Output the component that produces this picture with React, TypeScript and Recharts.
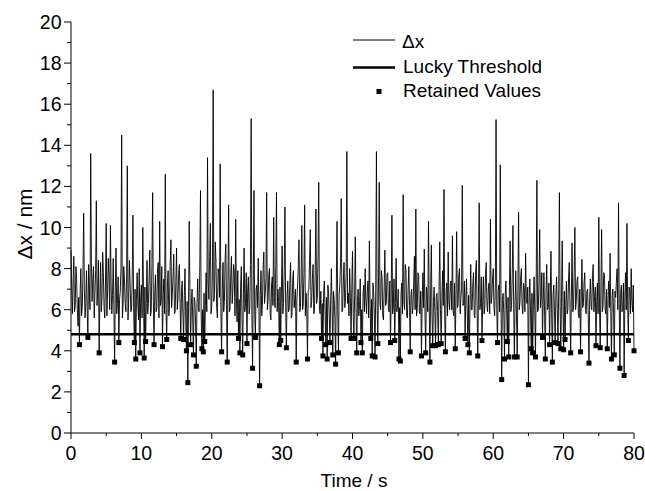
import React from "react";
import { ComposedChart, Line, Scatter, XAxis, YAxis, ReferenceLine } from "recharts";

// sampling interval of the trace, in seconds
const SAMPLE_STEP = 0.1;

// Δx in nm, one row per second (10 samples each)
const dxValues: number[] = [
  8.9, 7.1, 5.8, 7.4, 8.6, 5.9, 6.2, 8.1, 7.5, 6.0,
  5.2, 6.6, 4.3, 6.9, 8.0, 5.7, 6.1, 7.7, 10.7, 7.0,
  5.6, 6.3, 7.9, 6.1, 4.65, 8.2, 7.2, 6.0, 13.6, 8.3,
  6.4, 7.5, 8.1, 5.6, 6.8, 7.9, 11.3, 6.2, 7.0, 8.4,
  3.9, 6.4, 8.3, 5.9, 6.5, 8.8, 7.8, 6.1, 5.6, 7.3,
  10.2, 5.7, 6.9, 8.5, 7.6, 6.0, 10.1, 7.2, 5.8, 6.7,
  8.5, 6.0, 3.45, 7.1, 9.0, 5.8, 6.3, 7.6, 4.4, 6.5,
  6.9, 8.0, 14.5, 5.6, 6.2, 8.1, 7.4, 6.3, 5.9, 7.7,
  13.0, 5.5, 6.6, 8.4, 7.3, 5.9, 6.0, 7.5, 10.6, 6.1,
  4.4, 7.0, 3.6, 6.5, 7.8, 6.2, 5.5, 8.0, 3.9, 6.6,
  7.2, 5.6, 10.0, 6.9, 3.65, 7.1, 4.45, 6.3, 8.4, 5.8,
  6.3, 7.6, 8.9, 5.7, 5.9, 8.2, 11.7, 6.4, 4.3, 6.8,
  7.7, 5.9, 6.1, 8.0, 8.3, 5.6, 10.3, 6.2, 6.4, 8.1,
  4.2, 6.7, 7.5, 5.8, 12.6, 6.0, 4.55, 7.2, 7.9, 5.7,
  6.2, 8.3, 9.4, 6.1, 6.8, 7.6, 8.7, 5.8, 5.9, 7.4,
  9.0, 6.0, 6.5, 7.8, 8.2, 6.3, 4.6, 6.9, 7.4, 5.8,
  4.55, 6.7, 8.0, 5.6, 4.0, 6.4, 2.45, 6.1, 10.3, 6.9,
  4.3, 6.2, 7.0, 5.5, 3.8, 6.6, 6.4, 5.4, 3.25, 6.3,
  7.5, 6.1, 5.9, 8.1, 11.8, 5.7, 4.1, 6.0, 3.95, 6.8,
  4.45, 6.2, 7.8, 5.9, 13.4, 7.3, 6.5, 8.6, 10.2, 5.8,
  6.2, 7.9, 16.7, 6.4, 6.9, 9.3, 8.4, 6.1, 5.6, 8.0,
  7.8, 6.6, 13.1, 5.8, 3.95, 7.0, 8.3, 5.9, 6.4, 8.5,
  9.2, 6.0, 3.45, 7.4, 11.1, 5.9, 6.0, 7.7, 8.6, 6.3,
  6.9, 8.2, 7.8, 5.7, 10.4, 6.6, 5.4, 7.9, 4.6, 6.5,
  3.9, 7.1, 8.1, 5.6, 3.8, 6.8, 9.0, 5.9, 6.3, 7.8,
  4.35, 6.9, 7.6, 5.8, 6.0, 8.2, 15.3, 6.0, 3.15, 7.3,
  11.8, 5.9, 4.65, 7.0, 7.2, 6.1, 8.5, 6.4, 2.3, 6.7,
  7.9, 5.7, 6.2, 8.0, 8.8, 6.3, 6.8, 7.5, 11.7, 6.0,
  6.4, 7.7, 8.0, 5.8, 5.5, 7.2, 7.6, 6.2, 10.5, 6.6,
  6.1, 8.1, 11.7, 5.9, 7.0, 6.4, 4.3, 7.1, 4.5, 6.9,
  9.1, 5.8, 6.3, 8.0, 11.0, 6.2, 4.15, 6.6, 7.4, 5.9,
  6.0, 7.3, 8.3, 5.6, 5.7, 7.4, 7.9, 6.1, 6.5, 7.0,
  3.45, 6.5, 7.2, 8.1, 9.4, 5.9, 6.1, 7.6, 10.1, 6.0,
  6.2, 7.8, 11.1, 5.7, 6.8, 6.0, 3.6, 6.9, 7.0, 8.4,
  9.9, 6.1, 6.4, 7.5, 8.2, 5.8, 6.0, 7.9, 10.9, 6.3,
  6.6, 8.5, 12.2, 6.0, 5.8, 6.9, 4.6, 6.3, 3.75, 6.8,
  7.4, 5.9, 4.3, 6.6, 3.6, 7.2, 6.8, 5.7, 4.4, 6.5,
  8.0, 6.2, 3.8, 6.9, 6.5, 5.6, 3.35, 7.1, 10.3, 6.0,
  3.9, 6.7, 7.2, 8.3, 11.4, 5.9, 6.0, 7.4, 8.3, 6.1,
  6.4, 7.8, 13.7, 6.3, 6.8, 5.7, 8.0, 6.6, 4.6, 7.0,
  8.85, 5.8, 4.6, 6.7, 9.55, 6.1, 3.9, 6.4, 7.0, 5.7,
  6.2, 7.5, 4.4, 6.0, 3.9, 6.8, 7.2, 5.9, 8.0, 6.4,
  5.8, 6.9, 7.4, 5.6, 9.35, 6.2, 4.6, 6.5, 3.75, 7.3,
  6.9, 5.8, 3.7, 7.0, 13.7, 6.1, 4.35, 7.6, 12.2, 6.3,
  6.0, 7.9, 7.6, 5.7, 5.5, 7.1, 8.9, 6.2, 6.3, 7.7,
  7.8, 6.0, 5.9, 7.4, 4.4, 6.6, 10.6, 5.8, 6.1, 7.5,
  4.5, 6.3, 8.5, 5.9, 6.2, 7.0, 3.6, 6.1, 3.5, 6.8,
  7.3, 5.8, 11.6, 6.4, 6.0, 8.2, 7.9, 5.7, 5.6, 7.0,
  8.1, 6.2, 3.95, 6.7, 7.0, 5.8, 6.1, 7.4, 8.6, 6.0,
  10.9, 5.7, 6.0, 7.8, 7.7, 5.9, 5.8, 6.9, 3.75, 6.4,
  7.8, 6.1, 8.95, 5.8, 3.9, 7.1, 6.7, 5.9, 10.3, 6.3,
  3.45, 6.8, 9.15, 5.7, 4.25, 6.4, 7.1, 5.9, 4.25, 6.6,
  6.8, 5.9, 4.3, 7.0, 9.3, 6.0, 4.35, 6.5, 7.9, 6.2,
  11.85, 5.8, 3.95, 6.9, 7.3, 5.7, 8.8, 6.4, 6.0, 7.2,
  7.4, 6.0, 9.6, 5.9, 5.7, 7.3, 4.1, 6.6, 9.8, 6.1,
  6.2, 7.7, 8.0, 5.8, 6.6, 7.0, 12.05, 6.2, 6.3, 7.4,
  4.6, 6.5, 7.5, 5.9, 4.3, 6.7, 3.9, 6.2, 8.2, 6.0,
  6.0, 7.3, 7.8, 5.7, 5.6, 7.9, 8.4, 6.1, 3.75, 6.8,
  11.2, 6.0, 6.3, 7.6, 4.5, 6.4, 7.6, 5.8, 6.1, 7.7,
  8.3, 6.2, 5.9, 7.0, 7.3, 5.8, 10.4, 6.3, 6.6, 7.5,
  8.0, 6.1, 5.7, 7.2, 15.25, 6.0, 4.4, 6.9, 7.2, 5.9,
  13.05, 6.3, 2.6, 6.5, 6.8, 5.8, 3.6, 6.7, 7.4, 6.0,
  4.45, 6.6, 3.7, 7.1, 9.35, 5.9, 6.2, 7.7, 10.1, 6.1,
  3.7, 6.4, 7.9, 5.8, 3.7, 6.9, 10.75, 6.0, 6.4, 7.6,
  8.0, 6.2, 5.8, 7.3, 7.1, 5.9, 8.75, 6.5, 6.3, 7.1,
  2.35, 6.6, 7.5, 5.8, 4.1, 6.8, 3.9, 6.2, 7.6, 6.0,
  3.7, 7.2, 12.3, 5.9, 6.0, 7.4, 9.9, 6.1, 6.5, 7.8,
  4.65, 6.4, 7.8, 5.7, 3.6, 6.9, 8.2, 6.0, 6.1, 7.3,
  4.3, 6.5, 8.85, 5.8, 3.45, 6.7, 7.2, 5.9, 4.4, 6.8,
  7.6, 6.0, 4.35, 7.0, 11.7, 6.2, 4.1, 6.6, 9.35, 6.3,
  4.05, 6.9, 4.55, 6.2, 7.4, 5.8, 6.0, 7.5, 8.3, 6.1,
  3.9, 6.6, 9.25, 5.9, 6.1, 7.8, 10.0, 6.0, 6.4, 7.4,
  7.6, 5.8, 5.6, 7.0, 3.95, 6.5, 8.45, 6.1, 6.2, 7.3,
  7.8, 6.0, 5.8, 6.9, 7.0, 5.7, 3.4, 6.6, 7.5, 6.2,
  6.0, 7.6, 8.2, 5.9, 6.6, 7.1, 4.25, 6.4, 7.3, 5.8,
  10.5, 6.1, 4.15, 7.2, 9.9, 5.9, 6.2, 7.8, 7.7, 6.0,
  5.8, 7.0, 4.1, 6.5, 7.4, 6.1, 8.75, 5.9, 3.6, 6.7,
  7.0, 5.8, 3.8, 6.9, 6.6, 7.4, 8.0, 6.0, 11.2, 6.3,
  3.15, 6.8, 7.2, 5.9, 6.1, 7.3, 2.8, 6.6, 7.8, 6.0,
  10.2, 6.2, 4.5, 7.1, 6.9, 5.8, 8.0, 6.4, 5.9, 7.2,
  4.0,
];

const THRESHOLD = 4.8;
const xTicks = [0, 5, 10, 15, 20, 25, 30, 35, 40, 45, 50, 55, 60, 65, 70, 75, 80];
const yTicks = [0, 1, 2, 3, 4, 5, 6, 7, 8, 9, 10, 11, 12, 13, 14, 15, 16, 17, 18, 19, 20];

const series = dxValues.map((dx, i) => ({ t: Math.round(i * SAMPLE_STEP * 10) / 10, dx }));
const retained = series.filter((p) => p.dx < THRESHOLD);

const FONT = '"Liberation Sans", Arial, sans-serif';

const XTick = (props: any) => {
  const { x, y, payload } = props;
  const major = payload.value % 10 === 0;
  return (
    <g>
      <line x1={x} x2={x} y1={y} y2={y + (major ? 6 : 3)} stroke="#000" strokeWidth={1} />
      {major && (
        <text x={x} y={y + 27} textAnchor="middle" fontSize={19.5} fontFamily={FONT} fill="#000">
          {payload.value}
        </text>
      )}
    </g>
  );
};

const YTick = (props: any) => {
  const { x, y, payload } = props;
  const major = payload.value % 2 === 0;
  return (
    <g>
      <line x1={x - (major ? 7 : 4)} x2={x} y1={y} y2={y} stroke="#000" strokeWidth={1} />
      {major && (
        <text x={x - 9.5} y={y + 7} textAnchor="end" fontSize={19.5} fontFamily={FONT} fill="#000">
          {payload.value}
        </text>
      )}
    </g>
  );
};

const square = (props: any) => (
  <rect x={props.cx - 2.5} y={props.cy - 2.5} width={5} height={5} fill="#000" />
);

const textStyle: React.CSSProperties = {
  position: "absolute",
  fontFamily: FONT,
  fontSize: 19,
  lineHeight: "19px",
  whiteSpace: "nowrap",
  color: "#000",
};

export default function App() {
  return (
    <div
      style={{
        position: "fixed",
        left: 0,
        top: 0,
        width: 645,
        height: 491,
        overflow: "hidden",
        background: "#fff",
      }}
    >
      <ComposedChart
        width={645}
        height={491}
        data={series}
        margin={{ top: 22, right: 11, bottom: 0, left: 0 }}
      >
        <XAxis
          dataKey="t"
          type="number"
          domain={[0, 80]}
          ticks={xTicks}
          interval={0}
          height={58}
          tickLine={false}
          tickSize={0}
          tickMargin={0}
          tick={<XTick />}
          axisLine={{ stroke: "#000", strokeWidth: 1 }}
        />
        <YAxis
          type="number"
          domain={[0, 20]}
          ticks={yTicks}
          interval={0}
          width={71}
          tickLine={false}
          tickSize={0}
          tickMargin={0}
          tick={<YTick />}
          axisLine={{ stroke: "#000", strokeWidth: 1 }}
        />
        <Line
          type="linear"
          dataKey="dx"
          stroke="#000"
          strokeWidth={0.9}
          dot={false}
          isAnimationActive={false}
        />
        <ReferenceLine y={THRESHOLD} stroke="#000" strokeWidth={2.5} />
        <Scatter data={retained} dataKey="dx" shape={square} isAnimationActive={false} />
      </ComposedChart>

      {/* legend */}
      <svg style={{ position: "absolute", left: 348, top: 28, overflow: "visible" }} width={60} height={80}>
        <line x1={5} x2={47} y1={12} y2={12} stroke="#000" strokeWidth={1} />
        <line x1={5} x2={47} y1={39.5} y2={39.5} stroke="#000" strokeWidth={2.6} />
        <rect x={28.5} y={61} width={5} height={5} fill="#000" />
      </svg>
      <div style={{ ...textStyle, left: 402, top: 32 }}>Δx</div>
      <div style={{ ...textStyle, left: 403, top: 57 }}>Lucky Threshold</div>
      <div style={{ ...textStyle, left: 403, top: 81 }}>Retained Values</div>

      {/* axis titles */}
      <div style={{ ...textStyle, left: 354, top: 471, transform: "translateX(-50%)" }}>Time / s</div>
      <div
        style={{
          ...textStyle,
          fontSize: 21,
          lineHeight: "21px",
          left: 24,
          top: 224,
          transform: "translate(-50%, -50%) rotate(-90deg)",
        }}
      >
        Δx / nm
      </div>
    </div>
  );
}
